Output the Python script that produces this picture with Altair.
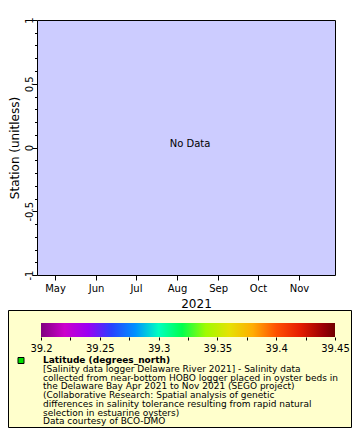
import altair as alt

# ---- data ----
month_numbers = [5, 6, 7, 8, 9, 10, 11]
x_start = dict(year=2021, month=4, date=17, hours=10)
x_end = dict(year=2021, month=11, date=28, hours=3)
y_domain = [-1, 1]
y_ticks = [-1, -0.9, -0.8, -0.7, -0.6, -0.5, -0.4, -0.3, -0.2, -0.1, 0,
           0.1, 0.2, 0.3, 0.4, 0.5, 0.6, 0.7, 0.8, 0.9, 1]
y_labels = [-1, -0.5, 0, 0.5, 1]
lat_domain = [39.2, 39.45]
lat_ticks = [39.2, 39.225, 39.25, 39.275, 39.3, 39.325, 39.35, 39.375, 39.4, 39.425, 39.45]
lat_labels = [39.2, 39.25, 39.3, 39.35, 39.4, 39.45]
palette = ["#800080", "#e000e0", "#4a10ff", "#0068ff", "#00ffc0", "#00ff00",
           "#ccf800", "#ffc000", "#ff5000", "#e00000", "#700000"]
legend_title = "Latitude (degrees_north)"
legend_lines = [
    "[Salinity data logger Delaware River 2021] - Salinity data",
    "collected from near-bottom HOBO logger placed in oyster beds in",
    "the Delaware Bay Apr 2021 to Nov 2021 (SEGO project)",
    "(Collaborative Research: Spatial analysis of genetic",
    "differences in salinity tolerance resulting from rapid natural",
    "selection in estuarine oysters)",
    "Data courtesy of BCO-DMO",
]
no_data_text = "No Data"

FONT = "DejaVu Sans"
empty = alt.Data(values=[])
one = alt.Data(values=[{}])

def lst(vals):
    return "[" + ",".join(str(v) for v in vals) + "]"

points = alt.Chart(empty).mark_point(filled=True, opacity=1).encode(
    x=alt.X("time:T",
            scale=alt.Scale(type="utc",
                            domain=[alt.DateTime(utc=True, **x_start), alt.DateTime(utc=True, **x_end)]),
            axis=alt.Axis(orient="bottom",
                          values=[alt.DateTime(year=2021, month=m, date=1, utc=True) for m in month_numbers],
                          labelExpr="utcFormat(datum.value, '%b')", title="2021", domain=False,
                          tickSize=5, tickColor="black", labelBaseline="alphabetic", labelPadding=11,
                          labelFontSize=10, labelFont=FONT, labelColor="black", labelFlush=False,
                          labelOverlap=False, grid=False,
                          titleFont=FONT, titleFontSize=12, titleFontWeight="normal", titleColor="black",
                          titleX=159, titleY=32, titleBaseline="alphabetic", titleAlign="center")),
    y=alt.Y("station:Q",
            scale=alt.Scale(domain=y_domain, nice=False, zero=False),
            axis=alt.Axis(orient="left", values=y_ticks, domain=False, grid=False,
                          tickSize={"condition": {"test": "indexof(" + lst(y_labels) + ", datum.value) >= 0", "value": 5}, "value": 2.5},
                          tickColor="black",
                          labelExpr="indexof(" + lst(y_labels) + ", datum.value) >= 0 ? toString(datum.value) : ''",
                          labelAngle=270, labelAlign="center", labelBaseline="alphabetic", labelPadding=0,
                          labelFontSize=10, labelFont=FONT, labelColor="black", labelFlush=False, labelOverlap=False,
                          title="Station (unitless)", titleFont=FONT, titleFontSize=12, titleFontWeight="normal",
                          titleColor="black", titleAngle=270, titleX=-19, titleY=127.5,
                          titleBaseline="alphabetic", titleAlign="center")),
    color=alt.Color("latitude:Q",
                    scale=alt.Scale(domain=lat_domain, range=palette, nice=False, zero=False),
                    legend=alt.Legend(orient="none", legendX=4, legendY=303, direction="horizontal",
                                      gradientLength=294, gradientThickness=14, title=None,
                                      labelExpr="''", padding=0, gradientStrokeWidth=0, zindex=1)),
)

cbar_axis = alt.Chart(empty).mark_point(opacity=0).encode(
    x=alt.X("lat:Q",
            scale=alt.Scale(domain=lat_domain, range=[4, 298], nice=False, zero=False),
            axis=alt.Axis(orient="bottom", offset=62, values=lat_ticks, domain=False, grid=False,
                          tickSize=3, tickColor="black", zindex=1,
                          labelExpr="indexof(" + lst(lat_labels) + ", datum.value) >= 0 ? toString(datum.value) : ''",
                          labelBaseline="alphabetic", labelPadding=11, labelFontSize=10, labelFont=FONT,
                          labelColor="black", labelFlush=False, labelOverlap=False, title=None)),
)

box = alt.Chart(one).mark_rect(fill="#ffffcc", stroke="black", strokeWidth=1).encode(
    x=alt.value(-28.5), x2=alt.value(314.5), y=alt.value(290.5), y2=alt.value(407.5))

marker = alt.Chart(one).mark_square(size=36, fill="#00e000", stroke="black", strokeWidth=1, opacity=1).encode(
    x=alt.value(-16), y=alt.value(340.5))

title_txt = alt.Chart(one).mark_text(font=FONT, fontSize=9, fontWeight="bold", align="left",
                                     baseline="middle", color="black").encode(
    x=alt.value(6), y=alt.value(340), text=alt.value(legend_title))

desc_txt = alt.Chart(one).mark_text(font=FONT, fontSize=9, align="left", baseline="top",
                                    lineHeight=8.7, color="black").encode(
    x=alt.value(6), y=alt.value(345), text=alt.value(legend_lines))

nodata = alt.Chart(one).mark_text(font=FONT, fontSize=10, align="center", baseline="middle",
                                  color="black").encode(
    x=alt.value(153), y=alt.value(124), text=alt.value(no_data_text))

chart = alt.layer(box, marker, title_txt, desc_txt, nodata, cbar_axis, points).resolve_scale(
    x="independent"
).properties(
    width=298, height=255,
    padding={"left": 29, "top": 12, "right": 17, "bottom": 153},
    autosize=alt.AutoSizeParams(type="none"),
    background="white",
).configure_view(fill="#ccccff", stroke="black", strokeWidth=1)

chart.save("out.html", embed_options={"renderer": "svg", "actions": False})
